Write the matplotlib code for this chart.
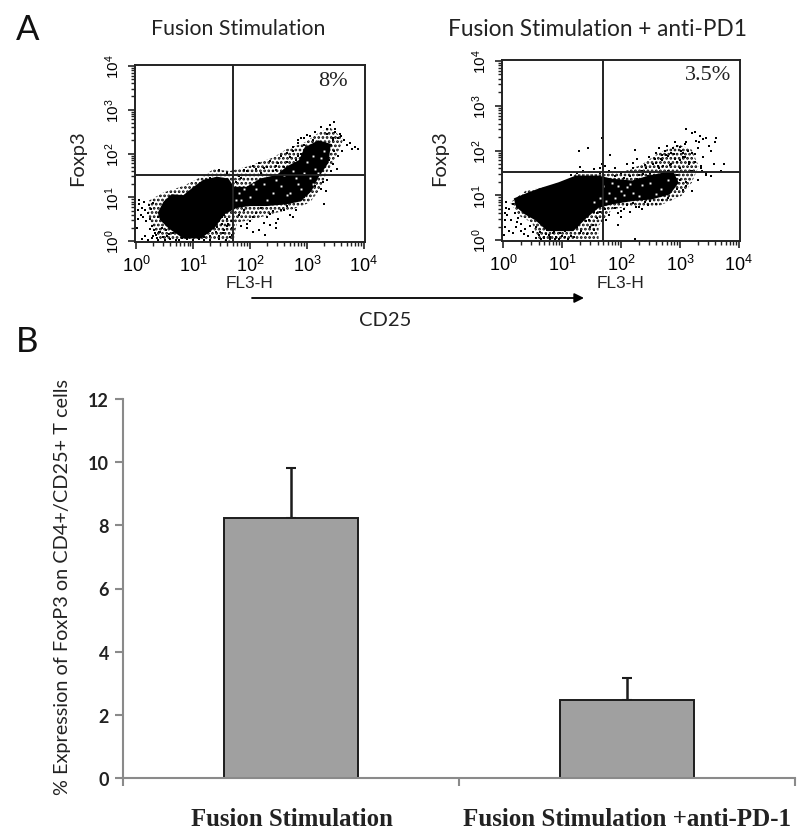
import numpy as np
import matplotlib
matplotlib.use("Agg")
import matplotlib.pyplot as plt
from matplotlib.ticker import LogLocator, NullFormatter

# ==========================================================
#   Datos (citometria en decadas log10)
# ==========================================================

LEFT_CORE_X = [.38, .48, .62, .83, 1.01, 1.18, 1.42, 1.62, 1.72, 1.94, 2.18, 2.47, 2.64, 2.86, 2.96, 3.2, 3.42,
               3.38, 3.2, 3.08, 2.9, 2.64, 2.29, 2.00, 1.77, 1.55, 1.38, 1.14, .83, .58, .42]
LEFT_CORE_Y = [.65, .90, 1.07, 1.05, 1.24, 1.40, 1.47, 1.43, 1.24, 1.24, 1.43, 1.51, 1.70, 1.85, 2.14, 2.30, 2.22,
               1.79, 1.45, 1.14, .91, .84, .80, .80, .76, .61, .30, .06, .06, .28, .48]
LEFT_FRINGE_X = [.22, .48, .83, 1.12, 1.36, 1.65, 2.0, 2.41, 2.64, 2.96, 3.17, 3.40, 3.64, 3.52, 3.35, 3.23, 3.05,
                 2.76, 2.47, 2.06, 1.77, 1.71, 1.36, .42, .30, .22]
LEFT_FRINGE_Y = [.92, 1.11, 1.26, 1.45, 1.64, 1.60, 1.72, 1.91, 2.10, 2.25, 2.44, 2.60, 2.33, 1.95, 1.56, 1.18, .88,
                 .73, .65, .50, .42, 0, .04, .04, .27, .57]
LEFT_DOTS_X = [.02, .03, .04, .05, .05, .08, .1, .12, .14, .16, .18, .2, .22, .24, .26, .28, .3, .32, .35, .38, .4,
               .1, .15, .2, .27, .33, .38, .25, .3, .36, .42, .47, .5, .55, .6, .65, .7, .75, .8, .45, .52, .58,
               .9, 1.0, 1.1, 1.2, 1.25, 1.3, 1.35, 1.4, 1.45, 1.5, 1.55, 1.6, 1.65, 1.68, 1.68, 1.68, 1.25, 1.35,
               1.45, 1.55, 1.62, 1.2, 1.3, 1.42, 1.52, 1.3, 1.45, 1.6, 1.5, 1.58,
               1.8, 1.9, 2.0, 2.1, 2.2, 2.3, 2.4, 2.5, 2.6, 2.7, 1.85, 1.95, 2.05, 2.15, 2.25, 2.35, 2.45, 2.55,
               2.65, 1.95, 2.06, 2.27, 2.75, 2.8, 2.45, 2.35,
               1.3, 1.4, 1.5, 1.6, 1.7, 1.8, 1.9, 2.0, 2.1, 2.2, 2.3, 2.4, 2.5, 2.6, 2.7, 2.8, 2.9, 1.75, 1.85, 1.95,
               2.05, 2.15, 2.25, 2.35, 2.45, 2.55, 2.65, 2.75, 2.85, 2.95, 2.45, 2.55, 2.65, 2.75, 2.85, 2.95, 1.45,
               3.05, 3.15, 3.25, 3.35, 3.45, 3.5, 3.55, 3.6, 3.65, 3.7, 3.75, 3.8, 3.85, 3.9, 3.42, 3.5, 3.58, 3.4,
               3.48, 3.55, 3.62, 3.3, 3.38, 3.46, 3.1, 3.2, 3.28, 3.35, 3.05, 3.15, 3.25, 3.33, 3.43, 3.52, 3.0, 2.95,
               3.3, 3.4, 3.48, 3.36, 3.45, 3.2, 3.1, 3.0, 2.9, 2.85]
LEFT_DOTS_Y = [.3, .5, .7, .85, .95, .6, .75, .55, .9, .7, .45, .65, .82, .5, .74, .35, .88, .25, .15, .55, .2,
               .05, .12, .02, .08, .18, .03, .28, .12, .08, .2, .1, .02, .12, .05, .18, .02, .03, .06, .3, .25, .16,
               .04, .02, .05, .03, .2, .12, .3, .2, .05, .4, .25, .5, .1, .3, .15, .45, .38, .45, .48, .6, .4, .1,
               .03, .33, .18, .24, .12, .35, .54, .03,
               .6, .7, .45, .65, .75, .55, .68, .5, .72, .6, .35, .3, .55, .25, .42, .62, .3, .72, .8, .4, .2,
               .13, .55, .7, .42, .36,
               1.45, 1.5, 1.42, 1.55, 1.6, 1.48, 1.62, 1.5, 1.65, 1.55, 1.7, 1.6, 1.78, 1.7, 1.92, 1.85, 2.0, 1.35,
               1.45, 1.6, 1.72, 1.78, 1.68, 1.82, 1.72, 1.95, 1.8, 2.05, 1.95, 2.2, 1.62, 1.55, 2.02, 2.15, 2.3, 2.35,
               1.62,
               2.4, 2.5, 2.6, 2.45, 2.3, 2.5, 2.35, 2.4, 2.3, 2.2, 2.25, 2.1, 2.15, 2.1, 2.2, 2.55, 2.45, 2.2, 2.05,
               1.95, 2.05, 1.9, 1.85, 1.75, 1.7, 1.5, 1.35, 1.4, 1.55, 1.25, 1.2, 1.15, 1.6, 1.65, 1.55, 1.0, .85,
               2.65, 2.72, 2.55, 2.35, 2.12, 2.3, 2.42, 2.35, 2.25]
LEFT_GAPS_X = [2.1, 2.25, 2.4, 2.55, 2.7, 2.85, 2.95, 3.05, 3.15, 3.25, 2.6, 2.75, 2.9, 3.0, 3.1, 2.0, 1.9, 1.8, 1.75,
               2.3, 2.45, 2.65, 2.8, 3.1, 3.2, 3.3, 2.95, 1.85, 2.05]
LEFT_GAPS_Y = [1.2, 1.3, 1.1, 1.25, 1.1, 1.3, 1.55, 1.45, 1.65, 1.9, 1.5, 1.6, 1.2, 1.8, 1.95, 1.0, 1.2, 1.1, .95,
               .95, 1.4, 1.05, 1.45, 1.3, 1.55, 2.05, 1.0, .95, 1.3]

RIGHT_CORE_X = [.18, .36, .60, .94, 1.23, 1.62, 1.85, 2.19, 2.47, 2.88, 2.98, 2.83, 2.53, 2.19, 1.85, 1.62, 1.42,
                1.19, .75, .55, .36, .22]
RIGHT_CORE_Y = [.93, 1.03, 1.15, 1.29, 1.44, 1.44, 1.37, 1.33, 1.44, 1.55, 1.28, 1.02, .91, .87, .80, .72, .50,
                .20, .20, .44, .58, .74]
RIGHT_FRINGE_X = [.12, .38, .66, 1.06, 1.23, 1.68, 2.07, 2.36, 2.64, 2.98, 3.2, 3.32, 3.2, 3.03, 2.64, 2.19, 1.85,
                  1.62, 1.62, .6, .49, .27]
RIGHT_FRINGE_Y = [.84, 1.10, 1.17, 1.32, 1.47, 1.47, 1.54, 1.69, 1.95, 2.13, 2.02, 1.65, 1.28, .99, .76, .76, .69,
                  .32, .02, .02, .39, .54]
RIGHT_DOTS_X = [.03, .03, .03, .04, .04, .07, .1, .13, .16, .2, .22, .26, .3, .33, .37, .1, .17, .24, .3, .36, .42,
                .02, .45, .5, .55, .6, .65, .7, .75, .8, .85, .9, .95, 1.0, .55, .63, .72, .8, .88, .96, 1.05, 1.15,
                1.25, 1.32, 1.4, 1.48, 1.55, 1.6, 1.2, 1.3, 1.42, 1.52, 1.6, 1.35, 1.45, 1.55, .7, .78, .86, 1.05, 1.1,
                1.65, 1.72, 1.8, 1.9, 2.0, 2.1, 2.2, 2.3, 2.4, 2.5, 2.6, 2.7, 2.8, 1.75, 1.95, 2.05, 2.15, 2.25, 2.35,
                2.45, 1.95, 2.0, 2.23,
                1.15, 1.25, 1.35, 1.45, 1.55, 1.65, 1.72, 1.8, 1.9, 2.0, 2.1, 2.2, 2.3, 2.4, 1.9, 2.05, 2.15, 2.28,
                2.38, 2.46,
                1.67, 1.28, 1.44, 1.82, 1.31, 2.24, 1.67, 1.64, 2.2, 2.28,
                2.35, 2.42, 2.48, 2.55, 2.6, 2.65, 2.7, 2.75, 2.8, 2.85, 2.9, 2.95, 3.0, 2.5, 2.58, 2.65, 2.72, 2.8,
                2.88, 2.95, 3.02, 3.08, 2.7, 2.78, 2.85, 2.92, 3.0, 3.05, 3.1, 3.15, 3.2, 3.25, 3.3, 3.35, 3.4, 3.45,
                3.52, 3.58, 3.62, 3.7, 3.75, 3.28, 3.34, 3.4, 3.5, 3.6, 2.9, 3.0, 3.1, 3.18, 3.26, 3.36, 3.44, 3.52,
                2.82, 2.95, 3.1, 3.2, 3.3, 3.1, 3.2, 3.32, 3.44, 2.6, 2.68, 2.76, 2.84, 2.92, 3.0, 3.08, 3.15, 3.2,
                3.26, 3.38, 3.05, 3.14, 2.62, 2.95, 3.05]
RIGHT_DOTS_Y = [.3, .45, .6, .72, .85, .55, .7, .45, .8, .6, .3, .5, .35, .72, .25, .2, .15, .4, .2, .13, .1,
                .12, .32, .18, .05, .12, .02, .08, .22, .03, .15, .06, .02, .1, .3, .18, .14, .06, .02, .16, .2, .1,
                .3, .2, .42, .3, .22, .5, .08, .15, .14, .34, .6, .5, .45, .62, .04, .12, .17, .06, .03,
                .62, .7, .55, .72, .65, .78, .82, .74, .85, .88, .8, .9, .95, .45, .6, .7, .62, .74, .7,
                .78, .33, .52, .02,
                1.45, 1.5, 1.55, 1.52, 1.58, 1.5, 1.65, 1.55, 1.62, 1.5, 1.7, 1.6, 1.45, 1.68, 1.42, 1.38, 1.42, 1.36,
                1.48, 1.44,
                2.28, 1.99, 2.06, 1.9, 1.64, 2.02, 1.7, 1.62, 1.72, 1.8,
                1.55, 1.62, 1.85, 1.7, 1.95, 1.6, 1.78, 2.0, 1.55, 1.7, 1.92, 2.1, 1.6, 1.5, 1.82, 2.05, 1.65, 1.88,
                2.05, 1.75, 1.98, 2.15, 1.9, 2.1, 1.95, 2.2, 2.08, 1.85, 2.2, 1.7, 1.55, 1.92, 2.05, 1.65, 1.85, 1.45,
                2.0, 1.7, 2.28, 1.55, 1.7, 2.22, 2.32, 2.25, 2.1, 2.2, 1.4, 1.35, 1.3, 1.55, 1.75, 1.6, 1.5, 1.42,
                1.25, 1.15, 1.2, 1.1, 1.35, 2.49, 2.38, 2.2, 2.28, 1.72, 1.82, 1.9, 1.68, 1.8, 1.78, 1.85, 1.75, 1.95,
                2.42, 1.55, 1.95, 2.0, 1.65, 1.45, 1.12]
RIGHT_GAPS_X = [1.7, 1.8, 1.95, 2.05, 1.85, 2.1, 2.2, 1.65, 1.75, 2.0, 2.3, 2.5, 2.68, 2.8, 2.35, 2.6, 1.55, 1.9, 2.15]
RIGHT_GAPS_Y = [1.2, 1.05, 1.2, 1.0, 1.28, 1.18, 1.05, .95, .88, 1.1, .98, 1.28, 1.15, 1.35, 1.22, 1.04, .85, .95, 1.25]

LEFT_PCT = "8%"
RIGHT_PCT = "3.5%"
GATE_X = 50
GATE_LEFT_Y = 33
GATE_RIGHT_Y = 33

CATEGORIAS = ["Fusion Stimulation", "Fusion Stimulation +anti-PD-1"]
VALORES = [8.22, 2.47]
ERRORES = [1.6, 0.7]
Y_TICKS = [0, 2, 4, 6, 8, 10, 12]

W, H = 800, 837
UI = ["Lato", "DejaVu Sans"]
SANS = "Liberation Sans"
SERIF = "Liberation Serif"

plt.rcParams["mathtext.default"] = "regular"
plt.rcParams["mathtext.fontset"] = "custom"
plt.rcParams["mathtext.rm"] = SANS
plt.rcParams["font.family"] = SANS
plt.rcParams["hatch.linewidth"] = 1.3


def eje_px(fig, x0, y0, x1, y1):
    """Crea un eje a partir de pixeles de la imagen (origen arriba a la izquierda)."""
    return fig.add_axes([x0 / W, 1 - y1 / H, (x1 - x0) / W, (y1 - y0) / H])


def panel_citometria(fig, caja, core, fringe, dots, gaps, pct, pct_pos, gate_y):
    ax = eje_px(fig, *caja)
    ax.set_xscale("log")
    ax.set_yscale("log")
    ax.set_xlim(10 ** -0.02, 10 ** 4.02)
    ax.set_ylim(10 ** -0.02, 10 ** 4.02)

    ax.fill(10 ** np.array(fringe[0]), 10 ** np.array(fringe[1]), facecolor="none", edgecolor="black",
            hatch="....", lw=0, zorder=1)
    ax.fill(10 ** np.array(core[0]), 10 ** np.array(core[1]), color="black", lw=0, zorder=2)
    ax.plot(10 ** np.array(gaps[0]), 10 ** np.array(gaps[1]), ls="", marker="s", ms=1.4, mew=0, color="white", zorder=3)
    ax.plot(10 ** np.array(dots[0]), 10 ** np.array(dots[1]), ls="", marker="s", ms=1.7, mew=0, color="black", zorder=4)

    ax.axvline(GATE_X, color="#222222", lw=1.4, zorder=5)
    ax.axhline(gate_y, color="#222222", lw=1.4, zorder=5)

    for eje in (ax.xaxis, ax.yaxis):
        eje.set_major_locator(LogLocator(base=10, numticks=6))
        eje.set_minor_locator(LogLocator(base=10, subs=np.arange(2, 10), numticks=6))
        eje.set_minor_formatter(NullFormatter())
    ax.tick_params(which="major", length=5, width=1.2, labelsize=13, pad=4, color="#222222")
    ax.tick_params(which="minor", length=3, width=1.0, color="#222222")
    plt.setp(ax.get_yticklabels(), rotation=90, va="center", fontsize=11)
    for s in ax.spines.values():
        s.set_linewidth(1.4)
        s.set_color("#222222")

    ax.text(pct_pos[0], pct_pos[1], pct, transform=ax.transAxes, family=SERIF, fontsize=16,
            ha="center", va="center", color="#222222")
    return ax


def texto_px(fig, x, y, s, **kw):
    fig.text(x / W, 1 - y / H, s, ha=kw.pop("ha", "center"), va=kw.pop("va", "center"), **kw)


fig = plt.figure(figsize=(8, 8.37), dpi=100)

panel_citometria(fig, (135, 66, 365, 243), (LEFT_CORE_X, LEFT_CORE_Y), (LEFT_FRINGE_X, LEFT_FRINGE_Y),
                 (LEFT_DOTS_X, LEFT_DOTS_Y), (LEFT_GAPS_X, LEFT_GAPS_Y), LEFT_PCT, (0.86, 0.915), GATE_LEFT_Y)
panel_citometria(fig, (502, 61, 740, 242), (RIGHT_CORE_X, RIGHT_CORE_Y), (RIGHT_FRINGE_X, RIGHT_FRINGE_Y),
                 (RIGHT_DOTS_X, RIGHT_DOTS_Y), (RIGHT_GAPS_X, RIGHT_GAPS_Y), RIGHT_PCT, (0.866, 0.92), GATE_RIGHT_Y)

# Textos del panel A
texto_px(fig, 28, 30, "A", family=UI, fontsize=25, color="#111111")
texto_px(fig, 27, 342, "B", family=UI, fontsize=25, color="#111111")
texto_px(fig, 238, 29, "Fusion Stimulation", family=UI, fontsize=15.3, color="#222222")
texto_px(fig, 598, 29, "Fusion Stimulation + anti-PD1", family=UI, fontsize=16.3, color="#222222")
texto_px(fig, 78, 158, "Foxp3", family=UI, fontsize=14.5, rotation=90, color="#222222")
texto_px(fig, 440, 158, "Foxp3", family=UI, fontsize=14.5, rotation=90, color="#222222")
texto_px(fig, 249, 283, "FL3-H", family=SANS, fontsize=12.4, color="#222222")
texto_px(fig, 621, 283, "FL3-H", family=SANS, fontsize=12.4, color="#222222")
texto_px(fig, 385, 320, "CD25", family=UI, fontsize=14.5, color="#222222")

flecha = fig.add_axes([0, 0, 1, 1], facecolor="none")
flecha.set_axis_off()
flecha.set_xlim(0, W)
flecha.set_ylim(H, 0)
flecha.annotate("", xy=(584, 299), xytext=(252, 299),
                arrowprops=dict(arrowstyle="-|>", color="black", lw=1.3, mutation_scale=14, shrinkA=0, shrinkB=0))

# Panel B: barras
ax = eje_px(fig, 123, 400, 795, 779)
pos = [0, 1]
ax.bar(pos, VALORES, width=0.4, color="#a0a0a0", edgecolor="#1c1c1c", linewidth=1.4, zorder=2)
ax.errorbar(pos, VALORES, yerr=[[0, 0], ERRORES], fmt="none", ecolor="#1c1c1c", elinewidth=1.8,
            capsize=3.5, capthick=1.5, zorder=1)
ax.set_xlim(-0.5, 1.5)
ax.set_ylim(0, 12)
ax.set_yticks(Y_TICKS)
ax.set_xticks([-0.5, 0.5, 1.5])
ax.set_xticklabels([])
ax.tick_params(axis="both", length=6, width=1.5, color="#8a8a8a")
ax.tick_params(axis="y", labelsize=13, pad=4)
for t in ax.get_yticklabels():
    t.set_family(UI)
    t.set_fontweight("bold")
    t.set_color("#222222")
for lado in ("top", "right"):
    ax.spines[lado].set_visible(False)
for lado in ("left", "bottom"):
    ax.spines[lado].set_color("#8a8a8a")
    ax.spines[lado].set_linewidth(1.5)

texto_px(fig, 63, 587, "% Expression of FoxP3 on CD4+/CD25+ T cells", family=UI, fontsize=14.3,
         rotation=90, color="#222222")
texto_px(fig, 292, 820, CATEGORIAS[0], family=SERIF, fontsize=17.8, fontweight="bold", color="#222222")
texto_px(fig, 627, 820, CATEGORIAS[1], family=SERIF, fontsize=18, fontweight="bold", color="#222222")

fig.savefig("out.png", dpi=100)
